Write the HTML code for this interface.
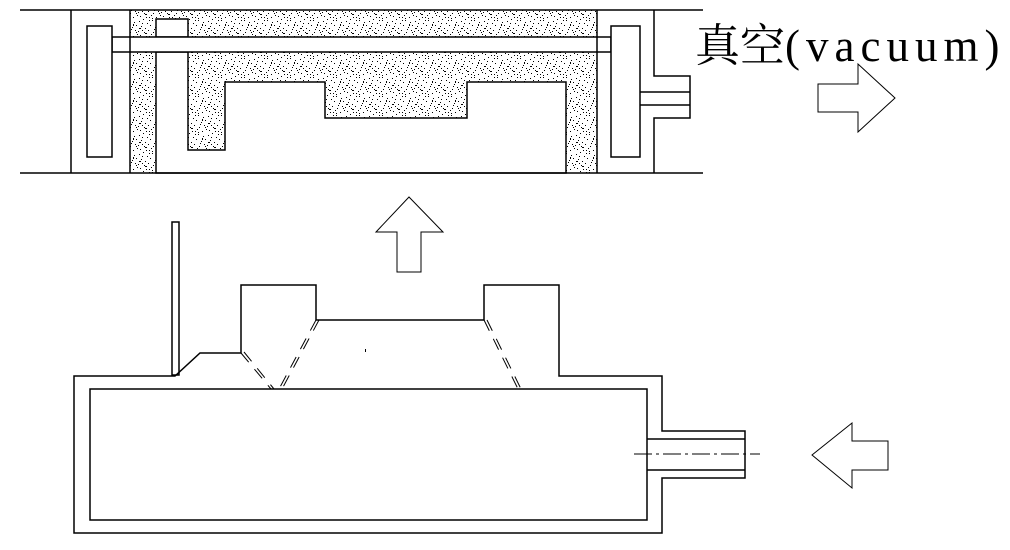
<!DOCTYPE html>
<html><head><meta charset="utf-8"><style>html,body{margin:0;padding:0;background:#fff}svg{display:block}</style></head>
<body>
<svg width="1010" height="550" viewBox="0 0 1010 550" xmlns="http://www.w3.org/2000/svg">
<defs>
<pattern id="sp" width="23" height="19" patternUnits="userSpaceOnUse">
<rect width="23" height="19" fill="#fff"/>
<g fill="#000">
<rect x="1" y="2" width="1" height="1"/><rect x="5" y="0" width="1" height="1"/><rect x="9" y="4" width="1" height="1"/><rect x="14" y="1" width="1" height="1"/><rect x="19" y="3" width="1" height="1"/>
<rect x="3" y="7" width="1" height="1"/><rect x="7" y="9" width="1" height="1"/><rect x="12" y="6" width="1" height="1"/><rect x="17" y="8" width="1" height="1"/><rect x="21" y="6" width="1" height="1"/>
<rect x="0" y="12" width="1" height="1"/><rect x="6" y="13" width="1" height="1"/><rect x="10" y="11" width="1" height="1"/><rect x="15" y="13" width="1" height="1"/><rect x="20" y="11" width="1" height="1"/>
<rect x="2" y="16" width="1" height="1"/><rect x="8" y="17" width="1" height="1"/><rect x="13" y="15" width="1" height="1"/><rect x="18" y="17" width="1" height="1"/><rect x="22" y="15" width="1" height="1"/>
<rect x="4" y="4" width="1" height="1"/><rect x="11" y="1" width="1" height="1"/><rect x="16" y="10" width="1" height="1"/><rect x="4" y="11" width="1" height="1"/><rect x="11" y="17" width="1" height="1"/>
<rect x="7" y="14" width="2" height="1"/><rect x="18" y="5" width="1" height="2"/><rect x="1" y="9" width="2" height="1"/><rect x="14" y="18" width="1" height="1"/><rect x="21" y="13" width="1" height="1"/>
</g>
</pattern>
</defs>
<g fill="none" stroke="#000" stroke-width="1.5">
<rect x="130" y="10" width="467" height="163" fill="url(#sp)" stroke="none"/>
<path d="M156,52 H188 V150 H225 V82 H325 V118 H467 V82 H566 V173 H156 Z" fill="#fff"/>
<rect x="156" y="19" width="32" height="18" fill="#fff"/>
<rect x="112" y="37" width="499" height="15" fill="#fff"/>
<line x1="20" y1="10" x2="703" y2="10"/>
<line x1="20" y1="173" x2="703" y2="173"/>
<line x1="71" y1="10" x2="71" y2="173"/>
<line x1="130" y1="10" x2="130" y2="173"/>
<line x1="597" y1="10" x2="597" y2="173"/>
<rect x="87" y="26" width="25" height="131" fill="#fff"/>
<rect x="611" y="26" width="29" height="131" fill="#fff"/>
<path d="M654,10 V76 H690 V118 H654 V173"/>
<line x1="640" y1="92" x2="690" y2="92"/>
<line x1="640" y1="105" x2="690" y2="105"/>
<text x="695" y="61" font-family="'Liberation Serif','Noto Serif CJK SC',serif" font-size="45" fill="#000" stroke="none"><tspan>真空</tspan><tspan letter-spacing="6">(vacuum)</tspan></text>
<path d="M818,84 H858 V64 L895,98 L858,132 V112 H818 Z" stroke-width="1"/>
<path d="M397,272 V232 H376 L409,197 L443,232 H421 V272 Z" stroke-width="1"/>
<path d="M888,441 H852 V423 L812,455 L852,488 V470 H888 Z" stroke-width="1"/>
<rect x="172" y="222" width="7" height="153" fill="#fff"/>
<path d="M74,376 H175 L200,353 H241 V285 H316 V320 H484 V285 H559 V376 H662 V431 H745 V478 H662 V533 H74 Z"/>
<rect x="90" y="389" width="557" height="131" fill="#fff"/>
<line x1="647" y1="439" x2="745" y2="439"/>
<line x1="647" y1="470" x2="745" y2="470"/>
<line x1="634" y1="454" x2="760" y2="454" stroke-width="1" stroke-dasharray="18,4,3,4"/>
<g stroke-width="1" stroke-dasharray="12,9">
<line x1="241" y1="353" x2="271" y2="389"/><line x1="244" y1="352" x2="274" y2="389"/>
<line x1="316" y1="320" x2="279" y2="389"/><line x1="319" y1="320" x2="282" y2="389"/>
<line x1="484" y1="320" x2="518" y2="389"/><line x1="487" y1="320" x2="521" y2="389"/>
</g>
<rect x="365" y="349" width="1" height="3" fill="#000" stroke="none"/>
</g>
</svg>
</body></html>
